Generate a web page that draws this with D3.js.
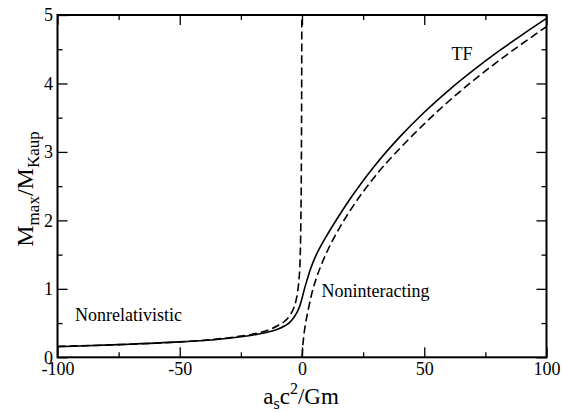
<!DOCTYPE html>
<html>
<head>
<meta charset="utf-8">
<script src="https://cdn.jsdelivr.net/npm/d3@7"></script>
<style>
  body { margin: 0; background: #fff; }
  svg text { font-family: "Liberation Serif", "Times New Roman", serif; fill: #000; }
</style>
</head>
<body>
<svg id="chart" width="562" height="412"></svg>
<script>
// TF (solid)
const tfX = [-100, -75, -50, -35, -25, -20, -15, -10, -7, -5, -3, -2, -1, 0, 1, 2, 3.3, 5, 7, 10, 15, 20, 25, 30, 40, 50, 60, 70, 80, 90, 100]
const tfY = [0.155, 0.185, 0.225, 0.26, 0.3, 0.325, 0.36, 0.41, 0.46, 0.51, 0.6, 0.66, 0.74, 0.86, 1.0, 1.12, 1.27, 1.43, 1.58, 1.77, 2.06, 2.33, 2.58, 2.81, 3.22, 3.58, 3.9, 4.19, 4.46, 4.71, 4.95]

// nonrelativistic (dashed, diverges at 0)
const nrX = [-100, -75, -50, -35, -25, -20, -15, -10, -7, -5, -3.5, -2.5, -1.8, -1.2, -0.8, -0.5, -0.3, -0.2, -0.12, -0.08]
const nrY = [0.16, 0.185, 0.225, 0.265, 0.31, 0.34, 0.385, 0.46, 0.53, 0.61, 0.71, 0.82, 0.95, 1.15, 1.4, 1.9, 2.6, 3.3, 4.2, 5.1]

// noninteracting (dashed, starts at 0)
const niX = [0, 0.3, 0.7, 1.5, 2.7, 4, 6, 8, 11, 15, 20, 30, 40, 50, 60, 70, 80, 90, 100]
const niY = [0, 0.15, 0.3, 0.5, 0.72, 0.93, 1.17, 1.36, 1.6, 1.87, 2.16, 2.65, 3.05, 3.41, 3.74, 4.04, 4.32, 4.58, 4.83]

const xTicks = [-100, -50, 0, 50, 100]
const xMinor = [-75, -25, 25, 75]
const yTicks = [0, 1, 2, 3, 4, 5]
const yMinor = [0.5, 1.5, 2.5, 3.5, 4.5]

const svg = d3.select("#chart")
const pLeft = 57.5, pRight = 546.5, pTop = 15, pBottom = 357.3

const x = d3.scaleLinear().domain([-100, 100]).range([pLeft, pRight])
const y = d3.scaleLinear().domain([0, 5]).range([pBottom, pTop])

svg.append("clipPath").attr("id", "clip")
   .append("rect").attr("x", pLeft).attr("y", pTop)
   .attr("width", pRight - pLeft).attr("height", pBottom - pTop)

// ticks, pointing inward on all sides
const tickStyle = g => {
  g.select(".domain").remove()
  g.selectAll("line").attr("stroke", "#000").attr("stroke-width", 1.3)
}
const tickGroup = (axis, tx, ty) => svg.append("g").attr("transform", `translate(${tx},${ty})`).call(axis).call(tickStyle)
const plain = d => String(d)

const bottomAxis = tickGroup(d3.axisBottom(x).tickValues(xTicks).tickSizeInner(-10).tickSizeOuter(0).tickFormat(plain), 0, pBottom)
bottomAxis.selectAll("text").attr("font-size", 18).attr("dy", "0.71em").attr("y", 5)
tickGroup(d3.axisBottom(x).tickValues(xMinor).tickSizeInner(-5).tickSizeOuter(0).tickFormat(""), 0, pBottom)
tickGroup(d3.axisTop(x).tickValues(xTicks).tickSizeInner(-10).tickSizeOuter(0).tickFormat(""), 0, pTop)
tickGroup(d3.axisTop(x).tickValues(xMinor).tickSizeInner(-5).tickSizeOuter(0).tickFormat(""), 0, pTop)

const leftAxis = tickGroup(d3.axisLeft(y).tickValues(yTicks).tickSizeInner(-10).tickSizeOuter(0).tickFormat(plain), pLeft, 0)
leftAxis.selectAll("text").attr("font-size", 18).attr("x", -4.5)
tickGroup(d3.axisLeft(y).tickValues(yMinor).tickSizeInner(-5).tickSizeOuter(0).tickFormat(""), pLeft, 0)
tickGroup(d3.axisRight(y).tickValues(yTicks).tickSizeInner(-10).tickSizeOuter(0).tickFormat(""), pRight, 0)
tickGroup(d3.axisRight(y).tickValues(yMinor).tickSizeInner(-5).tickSizeOuter(0).tickFormat(""), pRight, 0)

// frame
svg.append("rect").attr("x", pLeft).attr("y", pTop)
   .attr("width", pRight - pLeft).attr("height", pBottom - pTop)
   .attr("fill", "none").attr("stroke", "#000").attr("stroke-width", 2)

const line = d3.line().x(d => x(d[0])).y(d => y(d[1])).curve(d3.curveMonotoneX)
const drawCurve = (xs, ys, dash) => {
  svg.append("path")
     .datum(xs.map((v, i) => [v, ys[i]]))
     .attr("d", line)
     .attr("clip-path", "url(#clip)")
     .attr("fill", "none")
     .attr("stroke", "#000")
     .attr("stroke-width", 1.6)
     .attr("stroke-dasharray", dash)
}
drawCurve(tfX, tfY, null)
drawCurve(nrX, nrY, "8,4")
drawCurve(niX, niY, "8,4")

// labels
svg.append("text").attr("x", 75).attr("y", 320.5).attr("font-size", 18).text("Nonrelativistic")
svg.append("text").attr("x", 321.5).attr("y", 296.5).attr("font-size", 18).text("Noninteracting")
svg.append("text").attr("x", 451.5).attr("y", 60).attr("font-size", 18).text("TF")

// x title
const xt = svg.append("text").attr("x", 301).attr("y", 404).attr("font-size", 23).attr("text-anchor", "middle")
xt.append("tspan").text("a")
xt.append("tspan").attr("font-size", 16).attr("dy", 5).text("s")
xt.append("tspan").attr("dy", -5).text("c")
xt.append("tspan").attr("font-size", 16).attr("dy", -10).text("2")
xt.append("tspan").attr("dy", 10).text("/Gm")

// y title
const yt = svg.append("text").attr("transform", "translate(33,189) rotate(-90)").attr("font-size", 24).attr("text-anchor", "middle")
yt.append("tspan").text("M")
yt.append("tspan").attr("font-size", 17).attr("dy", 6).text("max")
yt.append("tspan").attr("dy", -6).text("/M")
yt.append("tspan").attr("font-size", 17).attr("dy", 6).text("Kaup")
</script>
</body>
</html>
